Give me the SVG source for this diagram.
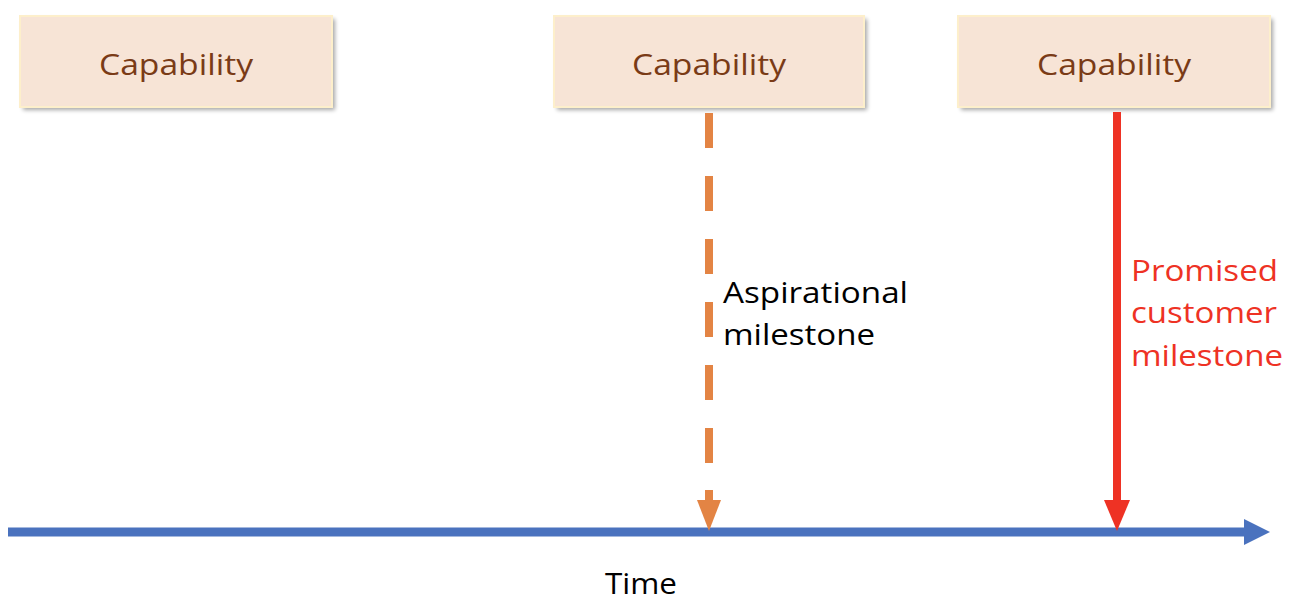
<svg xmlns="http://www.w3.org/2000/svg" width="1292" height="608" viewBox="0 0 1292 608">
<style>
.box{fill:#F7E4D6;stroke:#FDEFCB;stroke-width:2}
.shadow{fill:#000;opacity:0.35;filter:url(#blur)}
.cap{font-family:"Open Sans","Liberation Sans",sans-serif;font-size:30px;fill:#7A3B16;text-anchor:middle}
.lbl{font-family:"Open Sans","Liberation Sans",sans-serif;font-size:30px}
</style>
<defs>
<filter id="blur" x="-10%" y="-10%" width="120%" height="130%"><feGaussianBlur stdDeviation="2"/></filter>
</defs>
<rect width="1292" height="608" fill="#fff"/>
<g id="cap1">
<rect class="shadow" x="23" y="19" width="312" height="91"/>
<rect class="box" x="20" y="16" width="312" height="91"/>
<text class="cap" x="176" y="75" textLength="154" lengthAdjust="spacingAndGlyphs">Capability</text>
</g>
<g id="cap2">
<rect class="shadow" x="557" y="19" width="310" height="91"/>
<rect class="box" x="554" y="16" width="310" height="91"/>
<text class="cap" x="709" y="75" textLength="154" lengthAdjust="spacingAndGlyphs">Capability</text>
</g>
<g id="cap3">
<rect class="shadow" x="961" y="19" width="312" height="91"/>
<rect class="box" x="958" y="16" width="312" height="91"/>
<text class="cap" x="1114" y="75" textLength="154" lengthAdjust="spacingAndGlyphs">Capability</text>
</g>
<g id="connectors">
<line x1="8" y1="532" x2="1246" y2="532" stroke="#4A72BE" stroke-width="9"/>
<polygon points="1244,519 1270,532 1244,545" fill="#4A72BE"/>
<line x1="709" y1="113" x2="709" y2="500" stroke="#E38444" stroke-width="8" stroke-dasharray="35 28"/>
<line x1="709" y1="490" x2="709" y2="502" stroke="#E38444" stroke-width="8"/>
<polygon points="697,500 721,500 709,531" fill="#E38444"/>
<line x1="1117" y1="112" x2="1117" y2="502" stroke="#EE3224" stroke-width="8"/>
<polygon points="1104,500 1130,500 1117,531" fill="#EE3224"/>
</g>
<g id="label-aspirational">
<text class="lbl" x="723" y="303" fill="#000" textLength="185" lengthAdjust="spacingAndGlyphs">Aspirational</text>
<text class="lbl" x="723" y="345" fill="#000" textLength="152" lengthAdjust="spacingAndGlyphs">milestone</text>
</g>
<g id="label-promised">
<text class="lbl" x="1131" y="281" fill="#EE3224" textLength="147" lengthAdjust="spacingAndGlyphs">Promised</text>
<text class="lbl" x="1131" y="323" fill="#EE3224" textLength="146" lengthAdjust="spacingAndGlyphs">customer</text>
<text class="lbl" x="1131" y="366" fill="#EE3224" textLength="152" lengthAdjust="spacingAndGlyphs">milestone</text>
</g>
<g id="label-time">
<text class="lbl" x="641" y="594" font-size="28" text-anchor="middle" fill="#000" textLength="72" lengthAdjust="spacingAndGlyphs">Time</text>
</g>
</svg>
